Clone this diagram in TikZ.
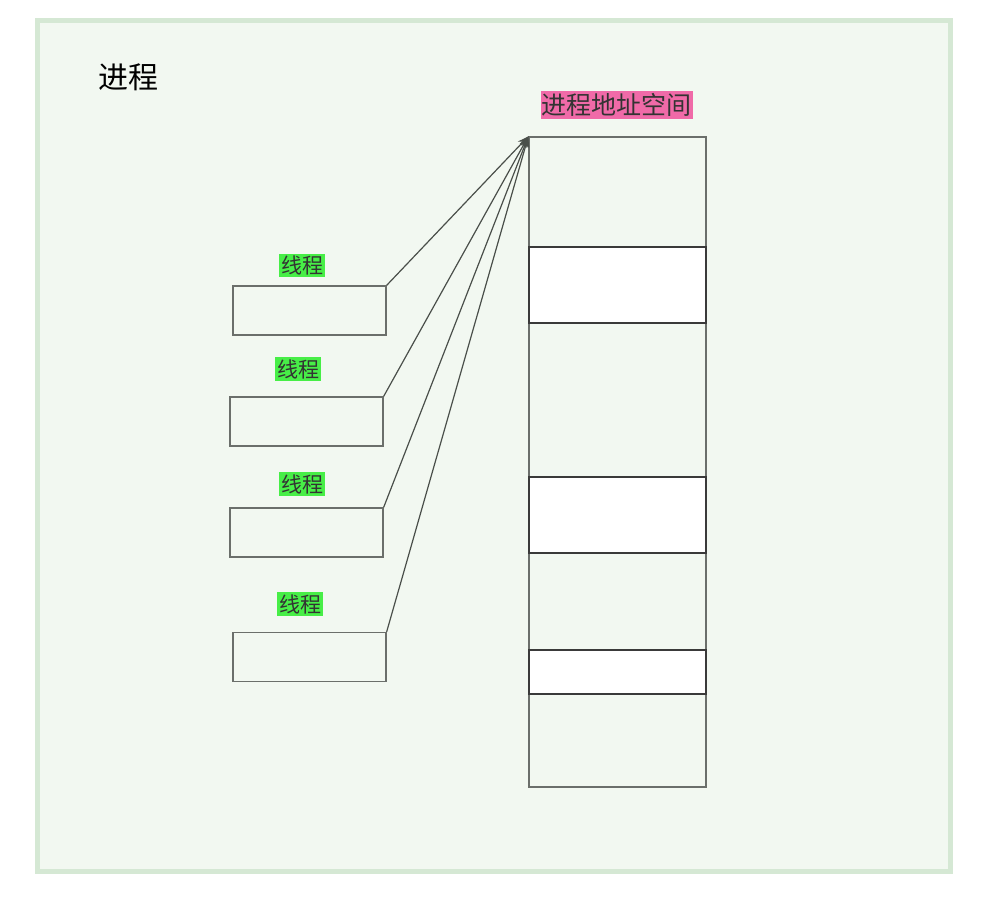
\documentclass[tikz,border=0pt]{standalone}
\usepackage{fontspec}
\newfontfamily\cjk{Noto Sans CJK SC}
\usetikzlibrary{arrows.meta}
\definecolor{framefill}{HTML}{F2F8F1}
\definecolor{frameline}{HTML}{D5E8D4}
\definecolor{boxline}{HTML}{6B6F6B}
\definecolor{segline}{HTML}{3A3A3A}
\definecolor{connline}{HTML}{4A4F4A}
\definecolor{lblgreen}{HTML}{47EE47}
\definecolor{lblpink}{HTML}{F06AA8}
\definecolor{lbltext}{HTML}{333333}
\tikzset{
  threadbox/.style={draw=boxline, line width=1.3pt, minimum width=153pt, minimum height=49pt, inner sep=0pt},
  membox/.style={draw=boxline, line width=1.3pt, minimum width=177pt, minimum height=650pt, inner sep=0pt},
  segbox/.style={draw=segline, fill=white, line width=1.3pt, minimum width=177pt, inner sep=0pt},
  tlabel/.style={fill=lblgreen, text=lbltext, font=\cjk\fontsize{21}{25}\selectfont, inner xsep=2pt, inner ysep=2pt},
  alabel/.style={fill=lblpink, text=lbltext, font=\cjk\fontsize{25}{29}\selectfont, inner xsep=1pt, inner ysep=2pt},
  conn/.style={draw=connline, line width=1.2pt, -{Stealth[length=11pt,width=8pt]}},
}
\begin{document}
\begin{tikzpicture}[x=1pt,y=-1pt]
\useasboundingbox (0,0) rectangle (996,903);
\node[draw=frameline, fill=framefill, line width=5pt, minimum width=913pt, minimum height=851pt, inner sep=0pt] (frame) at (493.5,445.5) {};
\node[font=\cjk\fontsize{30}{35}\selectfont, text=black, inner sep=0pt] (title) at (128,77) {进程};
\node[membox] (mem) at (617.5,462) {};
\node[segbox, minimum height=76pt] (seg1) at (617.5,285) {};
\node[segbox, minimum height=76pt] (seg2) at (617.5,515) {};
\node[segbox, minimum height=44pt] (seg3) at (617.5,672) {};
\node[alabel] (addr) at (616.5,105) {进程地址空间};
\node[threadbox] (t1) at (309.5,310.5) {};
\node[threadbox] (t2) at (306.5,421.5) {};
\node[threadbox] (t3) at (306.5,532.5) {};
\node[threadbox] (t4) at (309.5,657) {};
\node[tlabel] (l1) at (302,265.5) {线程};
\node[tlabel] (l2) at (298,369) {线程};
\node[tlabel] (l3) at (302,484) {线程};
\node[tlabel] (l4) at (300,604) {线程};
\draw[conn] (t1.north east) -- (mem.north west);
\draw[conn] (t2.north east) -- (mem.north west);
\draw[conn] (t3.north east) -- (mem.north west);
\draw[conn] (t4.north east) -- (mem.north west);
\end{tikzpicture}
\end{document}
